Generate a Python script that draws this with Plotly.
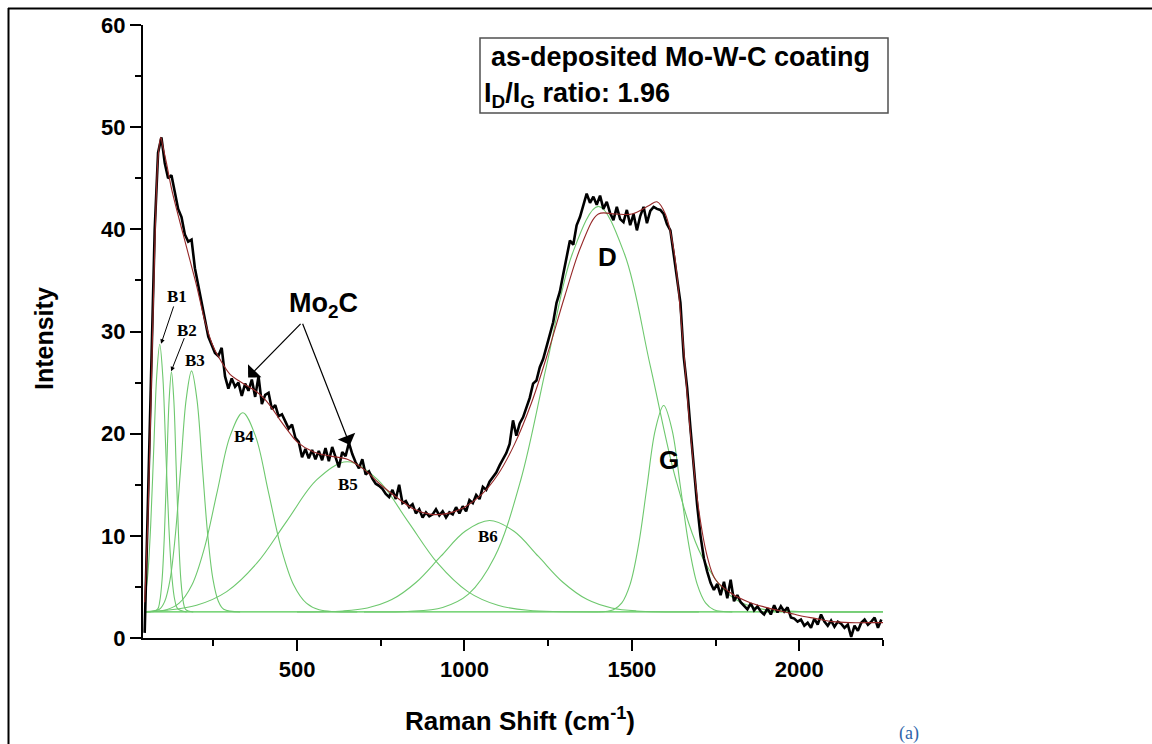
import plotly.graph_objects as go

# ---------------- data ----------------
raman_x = [45, 55, 65, 75, 85, 95, 105, 115, 125, 135, 145, 155, 165, 175, 185, 195, 205, 215, 225, 235,
           245, 255, 265, 275, 285, 295, 305, 315, 325, 335, 345, 355, 365, 375, 385, 395, 405, 415, 425, 435,
           445, 455, 465, 475, 485, 495, 505, 515, 525, 535, 545, 555, 565, 575, 585, 595, 605, 615, 625, 635,
           645, 655, 665, 675, 685, 695, 705, 715, 725, 735, 745, 755, 765, 775, 785, 795, 805, 815, 825, 835,
           845, 855, 865, 875, 885, 895, 905, 915, 925, 935, 945, 955, 965, 975, 985, 995, 1005, 1015, 1025, 1035,
           1045, 1055, 1065, 1075, 1085, 1095, 1105, 1115, 1125, 1135, 1145, 1155, 1165, 1175, 1185, 1195, 1205, 1215, 1225, 1235,
           1245, 1255, 1265, 1275, 1285, 1295, 1305, 1315, 1325, 1335, 1345, 1355, 1365, 1375, 1385, 1395, 1405, 1415, 1425, 1435,
           1445, 1455, 1465, 1475, 1485, 1495, 1505, 1515, 1525, 1535, 1545, 1555, 1565, 1575, 1585, 1595, 1605, 1615, 1625, 1635,
           1645, 1655, 1665, 1675, 1685, 1695, 1705, 1715, 1725, 1735, 1745, 1755, 1765, 1775, 1785, 1795, 1805, 1815, 1825, 1835,
           1845, 1855, 1865, 1875, 1885, 1895, 1905, 1915, 1925, 1935, 1945, 1955, 1965, 1975, 1985, 1995, 2005, 2015, 2025, 2035,
           2045, 2055, 2065, 2075, 2085, 2095, 2105, 2115, 2125, 2135, 2145, 2155, 2165, 2175, 2185, 2195, 2205, 2215, 2225, 2235, 2245]
intensity = [0.5, 14.0, 28.0, 40.0, 47.5, 49.0, 46.5, 45.0, 45.3, 43.5, 42.0, 41.2, 39.5, 38.8, 39.0, 36.2, 34.5, 32.8, 31.0, 29.5,
             28.7, 27.9, 27.6, 28.4, 25.6, 24.4, 25.4, 24.6, 25.0, 23.7, 24.9, 24.2, 25.3, 23.6, 25.6, 22.9, 23.8, 24.0, 22.4, 22.8,
             21.7, 21.9, 21.2, 20.5, 20.9, 19.6, 19.2, 17.7, 18.5, 17.6, 18.4, 17.5, 18.3, 17.4, 18.6, 17.3, 18.7, 17.6, 16.7, 18.2,
             17.8, 19.1, 18.0, 17.2, 16.6, 17.5, 16.0, 16.3, 15.6, 15.1, 14.9, 14.6, 14.1, 13.8, 14.5, 13.6, 15.0, 13.2, 13.4, 12.8,
             13.1, 12.2, 12.6, 11.8, 12.3, 11.9, 12.1, 12.6, 12.0, 12.4, 11.8, 12.3, 12.1, 12.8, 12.2, 12.9, 12.4, 13.5, 13.2, 14.0,
             13.6, 14.8, 14.5, 15.3, 15.8, 16.2, 16.9, 17.5, 18.1, 19.0, 21.3, 19.8, 21.0, 21.6, 22.6, 23.5, 24.9, 25.2, 26.5, 27.3,
             28.5, 29.8, 30.9, 32.8, 33.9, 35.6, 37.3, 38.9, 38.5, 40.4, 41.2, 42.3, 43.5, 42.6, 43.2, 42.4, 43.3, 42.0, 42.7, 41.6,
             40.9, 42.2, 41.0, 40.7, 41.9, 40.4, 41.5, 39.9, 41.3, 42.2, 40.6, 41.8, 42.2, 42.0, 41.9, 41.5, 40.5, 39.9, 37.5, 35.0,
             32.8, 27.5, 24.5, 20.5, 16.5, 13.0, 10.0, 7.8, 6.5, 5.4, 4.7, 5.3, 4.2, 5.5, 3.9, 5.7, 3.6, 4.2, 3.5, 3.1,
             2.8, 3.4, 2.7, 3.1, 2.6, 2.3, 2.9, 2.3, 3.2, 2.5, 3.1, 2.6, 3.0, 2.0, 1.9, 1.6, 1.8, 1.2, 1.5, 1.0,
             1.9, 1.3, 2.3, 1.6, 1.2, 1.7, 1.1, 1.6, 1.4, 1.0, 1.3, 0.1, 1.2, 0.7, 1.5, 1.8, 1.3, 1.6, 2.0, 1.0, 1.8]

fit_x = [45, 55, 65, 75, 85, 93, 100, 110, 125, 140, 160, 180, 200, 225, 250, 275, 300, 325, 350, 375,
         400, 425, 450, 475, 500, 550, 600, 650, 700, 750, 800, 850, 900, 950, 1000, 1050, 1100, 1150, 1200, 1250,
         1300, 1350, 1400, 1450, 1500, 1550, 1575, 1600, 1625, 1650, 1675, 1700, 1725, 1750, 1800, 1850, 1900, 1950, 2000, 2050,
         2100, 2150, 2200, 2250]
fit_y = [3.5, 12.0, 25.0, 38.0, 47.0, 49.0, 48.0, 46.5, 44.0, 42.0, 39.5, 37.0, 34.5, 31.0, 28.5, 27.0, 25.8, 25.2, 24.7, 24.2,
         23.5, 22.5, 21.3, 20.2, 19.2, 18.2, 17.8, 17.5, 16.5, 15.0, 13.7, 12.6, 12.1, 12.2, 12.8, 14.0, 16.0, 19.0, 23.0, 28.0,
         33.5, 38.5, 41.5, 41.5, 41.5, 42.3, 42.7, 41.5, 38.0, 30.0, 20.0, 12.5, 8.0, 5.7, 4.3, 3.5, 3.0, 2.6, 2.2, 1.9,
         1.6, 1.5, 1.5, 1.5]

base_x = [45, 2250]
base_y = [2.55, 2.55]

peaks = {
    "B1": ([45, 54, 63, 72, 81, 90, 99, 108, 117, 126, 135, 144, 170],
           [3.70, 6.09, 11.06, 18.44, 25.67, 28.75, 25.67, 18.44, 11.06, 6.09, 3.70, 2.84, 2.55]),
    "B2": ([45, 83, 90, 97, 104, 111, 118, 125, 132, 139, 146, 153, 160, 167, 190],
           [2.55, 2.81, 3.58, 5.73, 10.18, 16.80, 23.29, 26.05, 23.29, 16.80, 10.18, 5.73, 3.58, 2.81, 2.55]),
    "B3": ([45, 89, 105, 121, 137, 153, 169, 185, 201, 217, 233, 249, 265, 281, 330],
           [2.55, 2.81, 3.59, 5.74, 10.21, 16.86, 23.38, 26.15, 23.38, 16.86, 10.21, 5.74, 3.59, 2.81, 2.55]),
    "B4": ([45, 110, 148, 186, 224, 262, 300, 338, 376, 414, 452, 490, 528, 566, 680],
           [2.56, 2.77, 3.41, 5.19, 8.88, 14.38, 19.76, 22.05, 19.76, 14.38, 8.88, 5.19, 3.41, 2.77, 2.55]),
    "B5": ([45, 110, 200, 290, 380, 470, 560, 650, 740, 830, 920, 1010, 1100, 1190, 1400],
           [2.60, 2.71, 3.20, 4.54, 7.32, 11.47, 15.52, 17.25, 15.52, 11.47, 7.32, 4.54, 3.20, 2.71, 2.55]),
    "B6": ([500, 637, 710, 783, 856, 929, 1002, 1075, 1148, 1221, 1294, 1367, 1440, 1513, 1700],
           [2.55, 2.65, 2.94, 3.76, 5.46, 7.98, 10.45, 11.50, 10.45, 7.98, 5.46, 3.76, 2.94, 2.65, 2.55]),
    "D": ([700, 830, 935, 1012, 1090, 1168, 1245, 1322, 1400, 1478, 1555, 1632, 1710, 1788, 1865, 2000, 2250],
          [2.55, 2.60, 2.99, 4.29, 7.92, 15.44, 26.63, 37.59, 42.25, 37.59, 26.63, 15.44, 7.92, 4.29, 2.99, 2.60, 2.55]),
    "G": ([1400, 1445, 1470, 1495, 1520, 1545, 1570, 1595, 1620, 1645, 1670, 1695, 1720, 1745, 1800],
          [2.55, 2.77, 3.44, 5.28, 9.11, 14.80, 20.38, 22.75, 20.38, 14.80, 9.11, 5.28, 3.44, 2.77, 2.55]),
}

x_ticks = [500, 1000, 1500, 2000]
y_ticks = [0, 10, 20, 30, 40, 50, 60]

# ---------------- figure ----------------
GREEN = "rgb(110,200,110)"
fig = go.Figure()
fig.add_trace(go.Scatter(x=base_x, y=base_y, mode="lines",
                         line=dict(color="rgb(80,200,80)", width=1.3), showlegend=False))
for name, (px, py) in peaks.items():
    fig.add_trace(go.Scatter(x=px, y=py, mode="lines", line_shape="spline",
                             line=dict(color=GREEN, width=1.1), showlegend=False))
fig.add_trace(go.Scatter(x=raman_x, y=intensity, mode="lines",
                         line=dict(color="black", width=2.6), showlegend=False))
fig.add_trace(go.Scatter(x=fit_x, y=fit_y, mode="lines", line_shape="spline",
                         line=dict(color="rgb(150,40,40)", width=1.1), showlegend=False))

L, R, T, B = 143, 269, 25, 106
W, H = 1152, 744
pw, ph = W - L - R, H - T - B

def px2paper_x(p):
    return (p - L) / pw

def px2paper_y(p):
    return (H - B - p) / ph

FONT = "Liberation Sans, Arial, sans-serif"
axis_common = dict(showline=True, linecolor="black", linewidth=2, ticks="outside",
                   tickcolor="black", tickwidth=2, showgrid=False, zeroline=False,
                   tickfont=dict(family=FONT, size=22, color="black", weight="bold"))

fig.update_xaxes(range=[40, 2250], tickvals=x_ticks, ticklen=11,
                 minor=dict(tickvals=[250, 750, 1250, 1750, 2250], ticklen=6, tickwidth=2,
                            tickcolor="black", ticks="outside"),
                 **axis_common)
fig.update_yaxes(range=[0, 60], tickvals=y_ticks, ticklen=11,
                 minor=dict(tickvals=[5, 15, 25, 35, 45, 55], ticklen=6, tickwidth=2,
                            tickcolor="black", ticks="outside"),
                 **axis_common)

def paper_text(text, xp, yp, font, xanchor="center", angle=0):
    return dict(text=text, x=px2paper_x(xp), y=px2paper_y(yp), xref="paper", yref="paper",
                xanchor=xanchor, yanchor="middle", textangle=angle, showarrow=False, font=font)

bold = lambda s: dict(family=FONT, size=s, color="black", weight="bold")

annotations = [
    paper_text("Intensity", 44, 339, bold(25), angle=-90),
    paper_text("Raman Shift (cm<sup>-1</sup>)", 520, 719, bold(26)),
    paper_text("(a)", 909, 734, dict(family="Liberation Serif, serif", size=18, color="rgb(46,100,170)")),
    paper_text("as-deposited Mo-W-C coating", 489, 57, bold(27), xanchor="left"),
    paper_text("I<sub>D</sub>/I<sub>G</sub> ratio: 1.96", 482, 95, bold(27), xanchor="left"),
]

serif_b = dict(family="Liberation Serif, serif", size=17, color="black", weight="bold")
for txt, lx, ly in [("B1", 141, 33.4), ("B2", 171, 30.1), ("B3", 195, 27.2), ("B4", 342, 19.7),
                    ("B5", 652, 15.0), ("B6", 1070, 9.9)]:
    annotations.append(dict(text=txt, x=lx, y=ly, showarrow=False, font=serif_b,
                            xanchor="center", yanchor="middle"))

annotations += [
    dict(text="Mo<sub>2</sub>C", x=578, y=32.6, showarrow=False, font=bold(27), xanchor="center", yanchor="middle"),
    dict(text="D", x=1426, y=37.3, showarrow=False, font=bold(26), xanchor="center", yanchor="middle"),
    dict(text="G", x=1611, y=17.4, showarrow=False, font=bold(26), xanchor="center", yanchor="middle"),
]

# arrows
for (tx, ty, hx, hy, head, size, w) in [
    (133, 32.6, 94, 28.8, 2, 0.9, 1),
    (165, 29.5, 124, 26.1, 2, 0.9, 1),
    (515, 30.9, 354, 25.5, 1, 2.6, 1.2),
    (515, 30.9, 658, 18.9, 1, 2.6, 1.2),
]:
    annotations.append(dict(text="", x=hx, y=hy, ax=tx, ay=ty, axref="x", ayref="y",
                            showarrow=True, arrowhead=head, arrowsize=size, arrowwidth=w,
                            arrowcolor="black"))

shapes = [
    dict(type="rect", xref="paper", yref="paper", x0=px2paper_x(480), x1=px2paper_x(888),
         y0=px2paper_y(113), y1=px2paper_y(38), line=dict(color="rgb(80,80,80)", width=1.5)),
    dict(type="line", xref="paper", yref="paper", x0=px2paper_x(8), x1=px2paper_x(1152),
         y0=px2paper_y(8.5), y1=px2paper_y(8.5), line=dict(color="black", width=2)),
    dict(type="line", xref="paper", yref="paper", x0=px2paper_x(8.5), x1=px2paper_x(8.5),
         y0=px2paper_y(8), y1=px2paper_y(744), line=dict(color="black", width=2)),
]

fig.update_layout(width=W, height=H, margin=dict(l=L, r=R, t=T, b=B),
                  paper_bgcolor="white", plot_bgcolor="white",
                  annotations=annotations, shapes=shapes, showlegend=False)

fig.write_html("out.html")
